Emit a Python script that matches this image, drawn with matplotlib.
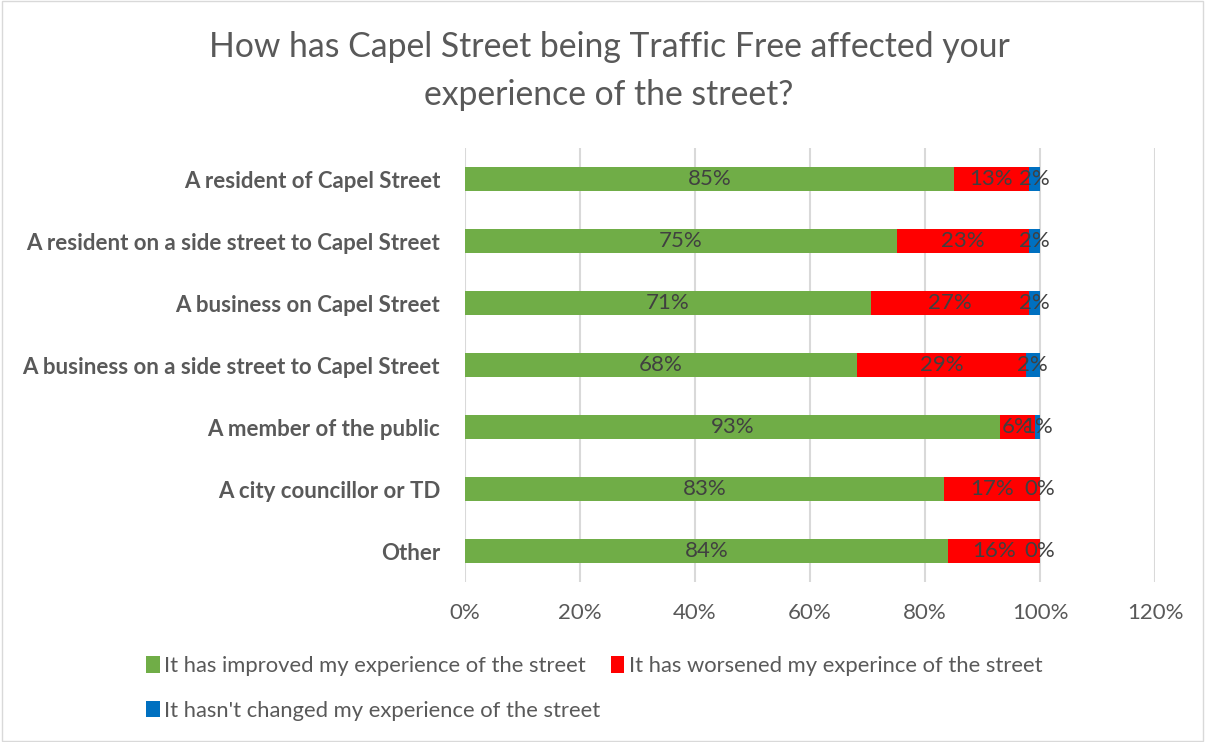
import matplotlib
matplotlib.use("Agg")
import matplotlib.pyplot as plt
from matplotlib.patches import Rectangle, Patch
import numpy as np

plt.rcParams['font.family'] = ['Lato', 'DejaVu Sans']

categories = ["A resident of Capel Street",
              "A resident on a side street to Capel Street",
              "A business on Capel Street",
              "A business on a side street to Capel Street",
              "A member of the public",
              "A city councillor or TD",
              "Other"]
improved = [85.0, 75.1, 70.6, 68.2, 93.0, 83.3, 84.0]
worsened = [13.0, 22.9, 27.4, 29.3, 6.1, 16.7, 16.0]
unchanged = [2.0, 2.0, 2.0, 2.5, 0.9, 0.0, 0.0]
improved_lbl = ["85%", "75%", "71%", "68%", "93%", "83%", "84%"]
worsened_lbl = ["13%", "23%", "27%", "29%", "6%", "17%", "16%"]
unchanged_lbl = ["2%", "2%", "2%", "2%", "1%", "0%", "0%"]
series_names = ["It has improved my experience of the street",
                "It has worsened my experince of the street",
                "It hasn't changed my experience of the street"]
colors = ["#70AD47", "#FF0000", "#0070C0"]
xticks = [0, 20, 40, 60, 80, 100, 120]

W, H = 1205, 742
fig = plt.figure(figsize=(W/100, H/100), dpi=100)
fig.patches.append(Rectangle((0.002, 0.002), 0.996, 0.996, transform=fig.transFigure,
                             fill=False, edgecolor="#d9d9d9", linewidth=1))
ax = fig.add_axes([465/W, 1-582/H, (1155-465)/W, (582-148)/H])

y = np.arange(len(categories))
h = 0.4
left = np.zeros(len(categories))
for vals, lbls, c in [(improved, improved_lbl, colors[0]),
                      (worsened, worsened_lbl, colors[1]),
                      (unchanged, unchanged_lbl, colors[2])]:
    vals = np.array(vals)
    ax.barh(y, vals, left=left, height=h, color=c, zorder=3)
    for yi, l, v, lb in zip(y, left, vals, lbls):
        ax.text(l + v/2, yi, lb, ha="center", va="center", fontsize=16,
                color="#404040", zorder=4)
    left = left + vals

ax.set_ylim(len(categories)-0.5, -0.5)
ax.set_xlim(0, 120)
ax.set_xticks(xticks)
ax.set_xticklabels([f"{t}%" for t in xticks], fontsize=16, color="#595959")
ax.set_yticks(y)
ax.set_yticklabels(categories, fontsize=16, color="#595959", fontweight="bold")
ax.tick_params(axis="both", length=0)
ax.tick_params(axis="x", pad=15)
ax.tick_params(axis="y", pad=18)
ax.grid(axis="x", color="#d9d9d9", linewidth=1.5, zorder=0)
for s in ax.spines.values():
    s.set_visible(False)

fig.text(609/W, 1-47/H, "How has Capel Street being Traffic Free affected your",
         ha="center", va="center", fontsize=24.3, color="#595959")
fig.text(609/W, 1-95/H, "experience of the street?",
         ha="center", va="center", fontsize=24.3, color="#595959")

handles = [Patch(facecolor=c) for c in colors]
order = [0, 2, 1]
leg = fig.legend([handles[i] for i in order], [series_names[i] for i in order],
                 ncol=2, loc="upper left", bbox_to_anchor=(131/W, 1-641/H),
                 frameon=False, fontsize=15.8, handlelength=0.6, handleheight=0.8,
                 handletextpad=0.2, columnspacing=0.5, labelspacing=1.1,
                 borderpad=0.2)
for t in leg.get_texts():
    t.set_color("#595959")

fig.savefig("out.png", dpi=100)
